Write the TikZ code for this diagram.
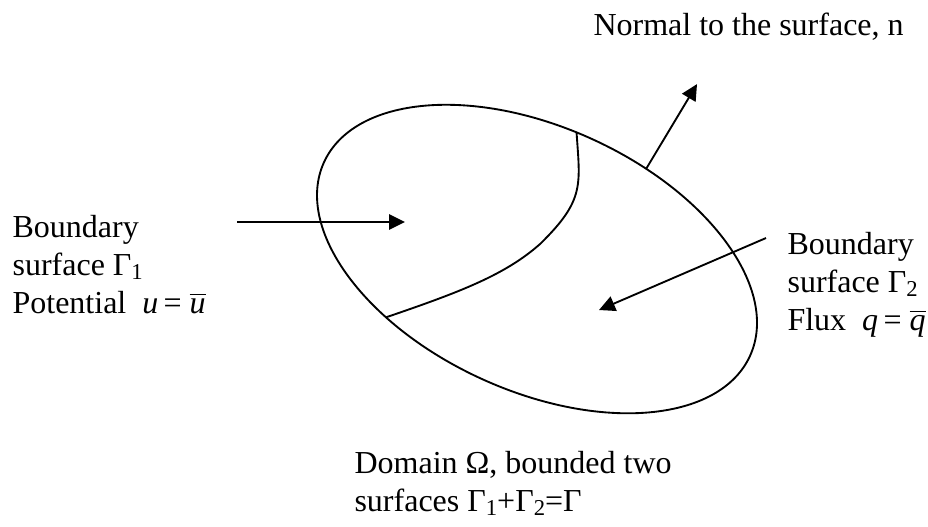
\documentclass[tikz,border=0pt]{standalone}
\usepackage{fontspec}
\setmainfont{Liberation Serif}
\usetikzlibrary{arrows.meta}
\newcommand{\barit}[1]{$\overline{\mbox{\itshape #1}}$}
\newcommand{\lowidx}[1]{\raisebox{-1.8pt}{\fontsize{8.5}{8.5}\selectfont #1}}
\tikzset{
    every node/.append style={align=left},
    lbl/.style={font=\fontsize{12}{14.2}\selectfont,inner sep=0pt,anchor=base west},
    arr/.style={-{Triangle[length=6pt,width=5.8pt]},line width=0.7pt},
    bline/.style={line width=0.7pt}
}

\begin{document}
\begin{tikzpicture}
    \useasboundingbox (-7.078,3.414) rectangle (5.153,-3.519);

    % domain and the split of its boundary
    \draw[bline,rotate=-24.4] (0,0) ellipse (3.084 and 1.740);
    \begin{scope}[rotate=-24.4]
        \coordinate (gtop)  at (94:3.084 and 1.740);
        \coordinate (gbot)  at (241:3.084 and 1.740);
        \coordinate (nbase) at (74.6:3.084 and 1.740);
    \end{scope}
    \draw[bline] (gtop) .. controls (0.567,0.975) and (0.633,0.778) .. (0.040,0.198)
        .. controls (-0.422,-0.211) and (-1.015,-0.435) .. (gbot);

    \coordinate (ntip)  at (2.109,2.306);
    \coordinate (g1tail) at (-3.954,0.488);
    \coordinate (g1tip)  at (-1.740,0.488);
    \coordinate (g2tail) at (3.018,0.277);
    \coordinate (g2tip)  at (0.817,-0.672);

    % base anchor sits on the last line
    \node[lbl] (normal) at (0.738,2.952) {Normal to the surface, n};
    \node[lbl] (gamma1) at (-6.919,-0.712) {Boundary\\surface Γ\lowidx{1}\\Potential\hspace{0.5em}\textit{u}\,=\ \barit{u}};
    \node[lbl] (gamma2) at (3.295,-0.936) {Boundary\\surface Γ\lowidx{2}\\Flux\hspace{0.5em}\textit{q}\,=\ \barit{q}};
    \node[lbl] (domain) at (-2.412,-3.321) {Domain Ω, bounded two\\surfaces Γ\lowidx{1}+Γ\lowidx{2}=Γ};

    \draw[arr] (nbase) -- (ntip);
    \draw[arr] (g1tail) -- (g1tip);
    \draw[arr] (g2tail) -- (g2tip);
\end{tikzpicture}
\end{document}
